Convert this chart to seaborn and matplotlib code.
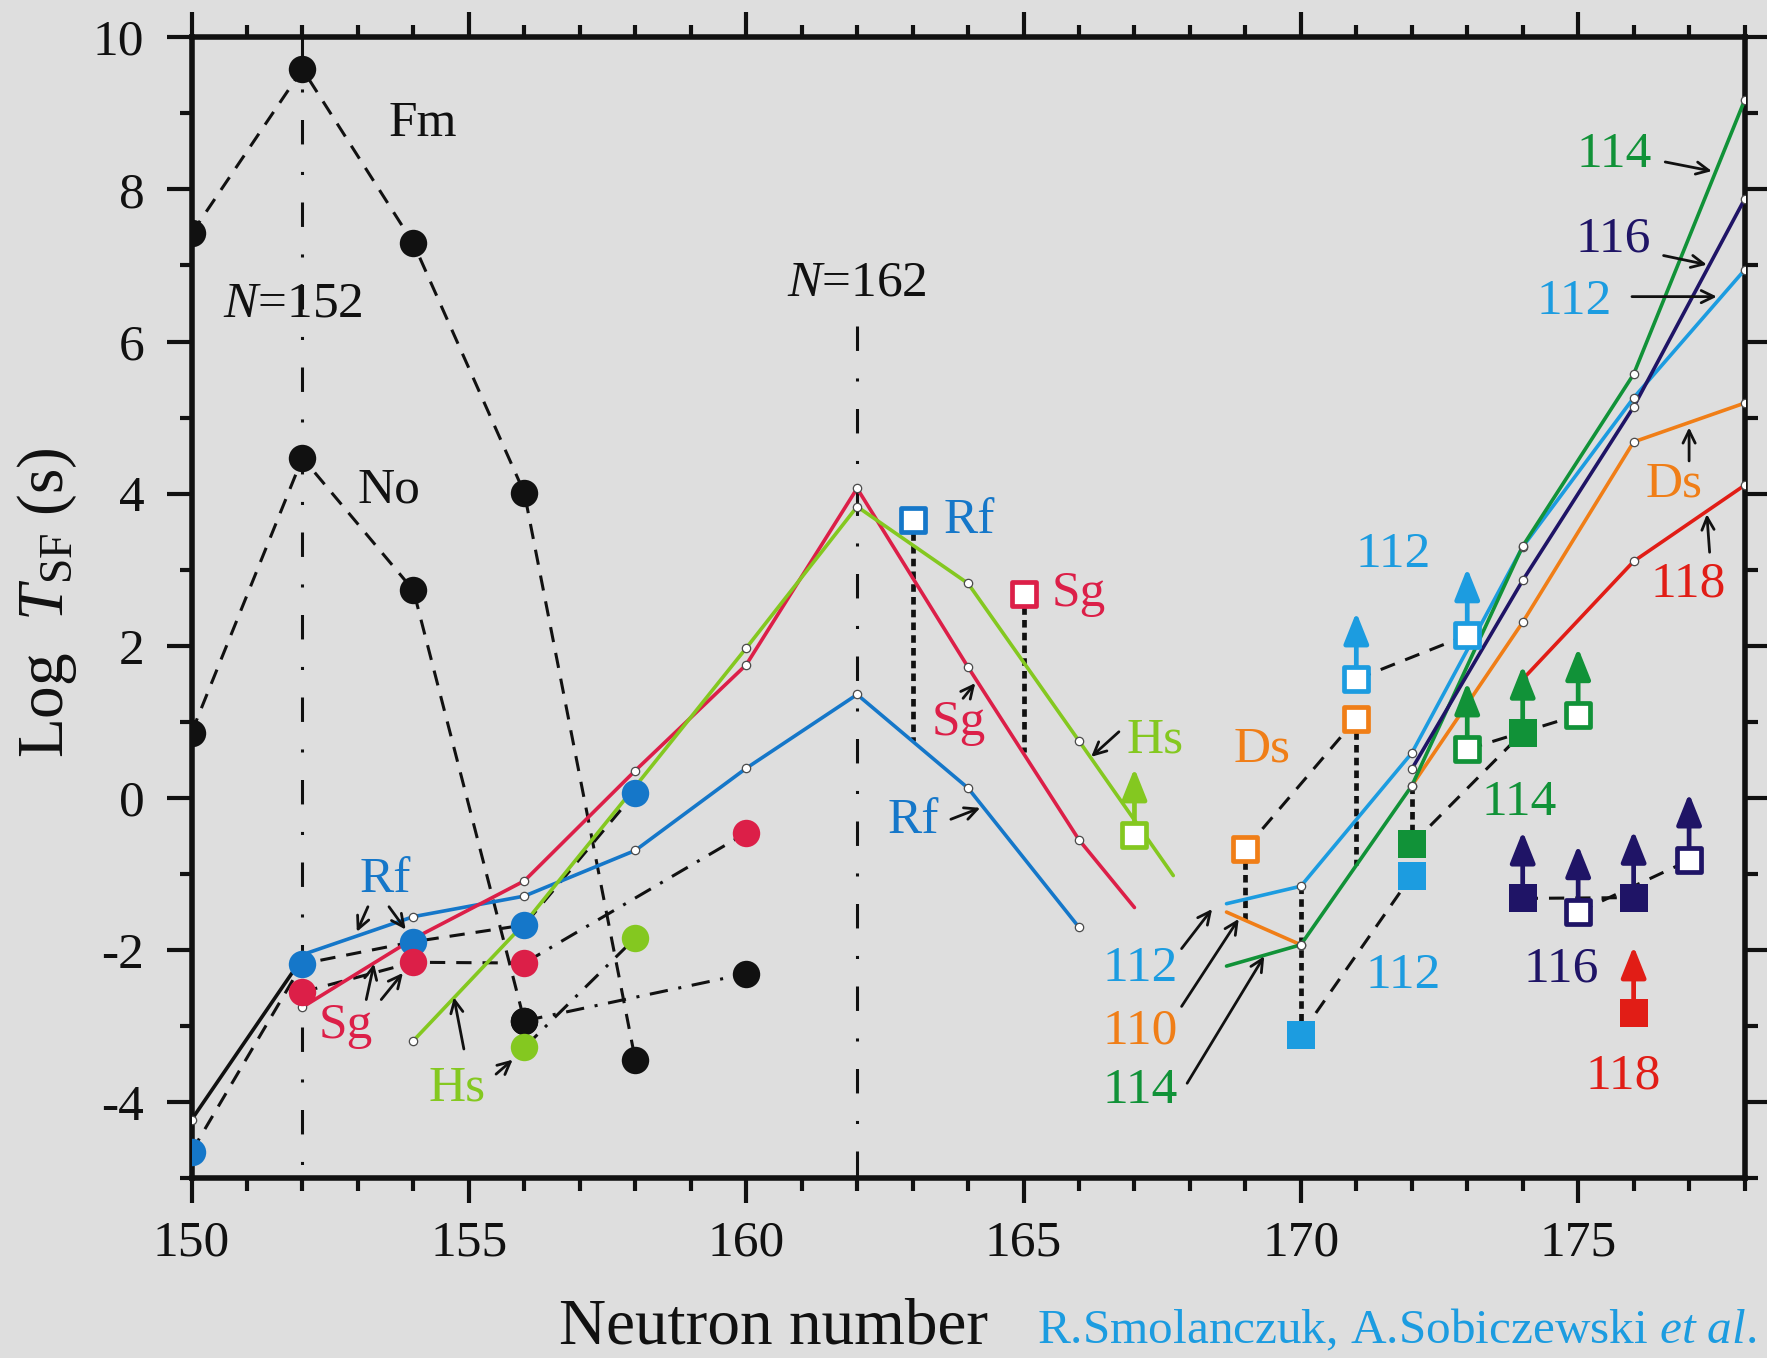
import numpy as np
import matplotlib
matplotlib.use("Agg")
import matplotlib.pyplot as plt
from matplotlib.ticker import MultipleLocator
import seaborn as sns

# ---------------- experimental points (log10 T_SF in s) ----------------
fm_n = [150, 152, 154, 156, 158]
fm_t = [7.42, 9.58, 7.29, 4.01, -3.44]
no_n = [150, 152, 154, 156]
no_t = [0.86, 4.47, 2.73, -2.93]
heavy_n = [156, 160]
heavy_t = [-2.93, -2.31]

rf_exp_n = [150, 152, 154, 156, 158]
rf_exp_t = [-4.65, -2.18, -1.89, -1.67, 0.07]
sg_exp_n = [152, 154, 156, 160]
sg_exp_t = [-2.55, -2.16, -2.17, -0.46]
hs_exp_n = [156, 158]
hs_exp_t = [-3.28, -1.84]

# squares (open = single event / limit, filled = measured)
rf_sq_n, rf_sq_t = [163], [3.66]
sg_sq_n, sg_sq_t = [165], [2.68]
hs_sq_n, hs_sq_t = [167], [-0.49]
ds_sq_n, ds_sq_t = [169, 171], [-0.67, 1.04]
e112_open_n, e112_open_t = [171, 173], [1.56, 2.14]
e112_full_n, e112_full_t = [170, 172], [-3.11, -1.02]
e114_open_n, e114_open_t = [173, 175], [0.64, 1.09]
e114_full_n, e114_full_t = [172, 174], [-0.61, 0.86]
e114_full_lim = [False, True]
e116_open_n, e116_open_t = [175, 177], [-1.50, -0.82]
e116_full_n, e116_full_t = [174, 176], [-1.32, -1.31]
e118_full_n, e118_full_t = [176], [-2.83]

# ---------------- calculated half-lives ----------------
lead_n = [150, 152]
lead_t = [-4.23, -2.10]
rf_th_n = [152, 154, 156, 158, 160, 162, 164, 166]
rf_th_t = [-2.06, -1.56, -1.29, -0.69, 0.39, 1.36, 0.13, -1.70]
sg_th_n = [152, 154, 156, 158, 160, 162, 164, 166, 167]
sg_th_t = [-2.75, -1.85, -1.09, 0.36, 1.75, 4.07, 1.72, -0.55, -1.44]
hs_th_n = [154, 156, 158, 160, 162, 164, 166, 167.7]
hs_th_t = [-3.19, -1.65, 0.15, 1.97, 3.83, 2.82, 0.75, -1.02]
th110_n = [168.66, 170]
th110_t = [-1.50, -1.93]
ds_th_n = [172, 174, 176, 178]
ds_th_t = [0.16, 2.31, 4.68, 5.19]
th112_n = [168.66, 170, 172, 174, 176, 178]
th112_t = [-1.39, -1.16, 0.59, 3.30, 5.26, 6.94]
th114_n = [168.66, 170, 172, 174, 176, 178]
th114_t = [-2.21, -1.93, 0.16, 3.31, 5.57, 9.17]
th116_n = [172, 174, 176, 178]
th116_t = [0.38, 2.86, 5.14, 7.87]
th118_n = [174, 176, 178]
th118_t = [1.56, 3.11, 4.11]

# links between measured and calculated values
link_n = [163, 165, 169, 170, 171, 172]
link_top = [3.66, 2.68, -0.67, -1.16, 1.04, 0.16]
link_bot = [0.75, 0.60, -1.60, -3.11, -0.88, -0.61]

shell_n = [152, 162]
shell_top = [10.0, 6.2]

# ---------------- style ----------------
BG = "#dedede"
INK = "#111111"
C_RF = "#1577c9"
C_SG = "#dc1f48"
C_HS = "#84c820"
C_110 = "#f07e17"
C_112 = "#1c9ce0"
C_114 = "#119238"
C_116 = "#1f1466"
C_118 = "#e11d16"

sns.set_theme(style="white")
plt.rcParams["font.family"] = ["Liberation Serif", "DejaVu Serif"]
plt.rcParams["mathtext.fontset"] = "custom"
plt.rcParams["mathtext.rm"] = "Liberation Serif"
plt.rcParams["mathtext.it"] = "Liberation Serif:italic"
plt.rcParams["axes.unicode_minus"] = False

fig = plt.figure(figsize=(17.67, 13.58), dpi=100, facecolor=BG)
ax = fig.add_axes([0.1084, 0.1323, 0.8789, 0.8403], facecolor=BG)

DASH = (0, (5, 3.6))
DASHDOT = (0, (6, 3.5, 1, 3.5))
SHELL = (0, (8, 9, 1, 9))
DOT = (0, (1.6, 1.1))


def curve(n, t, color, ls="-", lw=2.4, z=3):
    sns.lineplot(x=n, y=t, color=color, linestyle=ls, linewidth=lw,
                 sort=False, estimator=None, ax=ax, zorder=z)


def nodes(n, t):
    n = np.asarray(n, float)
    t = np.asarray(t, float)
    even = np.isclose(n % 2, 0)
    sns.scatterplot(x=n[even], y=t[even], s=36, color="white",
                    edgecolor="#4a4a4a", linewidth=0.9, ax=ax, zorder=4,
                    legend=False)


def dots(n, t, color):
    sns.scatterplot(x=n, y=t, s=390, color=color, linewidth=0, ax=ax,
                    zorder=5, legend=False)


def squares(n, t, color, filled, lim=None):
    if filled:
        sns.scatterplot(x=n, y=t, marker="s", s=400, color=color,
                        linewidth=0, ax=ax, zorder=6, legend=False)
    else:
        sns.scatterplot(x=n, y=t, marker="s", s=300, color="white",
                        edgecolor=color, linewidth=3.4, ax=ax, zorder=6,
                        legend=False)
    if lim is None:
        lim = [False] * len(n)
    for ni, ti, li in zip(n, t, lim):
        if li:
            ax.annotate("", xy=(ni, ti + 0.88), xytext=(ni, ti + 0.17),
                        arrowprops=dict(arrowstyle="-|>,head_length=0.95,head_width=0.38",
                                        color=color, lw=3.4, shrinkA=0, shrinkB=0,
                                        mutation_scale=20), zorder=6)


# magic-number guide lines
for n0, top in zip(shell_n, shell_top):
    curve([n0, n0], [top, -5], INK, ls=SHELL, lw=2.2, z=2)

# systematics of measured values
curve(fm_n, fm_t, INK, ls=DASH, lw=2.2)
curve(no_n, no_t, INK, ls=DASH, lw=2.2)
curve(heavy_n, heavy_t, INK, ls=DASHDOT, lw=2.2)
curve(rf_exp_n, rf_exp_t, INK, ls=DASH, lw=2.2)
curve(sg_exp_n[:3], sg_exp_t[:3], INK, ls=DASH, lw=2.2)
curve(sg_exp_n[2:], sg_exp_t[2:], INK, ls=DASHDOT, lw=2.2)
curve(hs_exp_n, hs_exp_t, INK, ls=DASHDOT, lw=2.2)
curve(ds_sq_n, ds_sq_t, INK, ls=DASH, lw=2.2)
curve(e112_open_n, e112_open_t, INK, ls=DASH, lw=2.2)
curve(e112_full_n, e112_full_t, INK, ls=DASH, lw=2.2)
curve(e114_open_n, e114_open_t, INK, ls=DASH, lw=2.2)
curve(e114_full_n, e114_full_t, INK, ls=DASH, lw=2.2)
curve(e116_open_n, e116_open_t, INK, ls=DASH, lw=2.2)
curve(e116_full_n, e116_full_t, INK, ls=DASH, lw=2.2)

for n0, a, b in zip(link_n, link_top, link_bot):
    curve([n0, n0], [a, b], INK, ls=DOT, lw=3.4, z=3)

# calculated curves
theory = [
    (lead_n, lead_t, INK),
    (rf_th_n, rf_th_t, C_RF),
    (sg_th_n, sg_th_t, C_SG),
    (hs_th_n, hs_th_t, C_HS),
    (th110_n, th110_t, C_110),
    (ds_th_n, ds_th_t, C_110),
    (th112_n, th112_t, C_112),
    (th114_n, th114_t, C_114),
    (th116_n, th116_t, C_116),
    (th118_n, th118_t, C_118),
]
for n, t, c in theory:
    curve(n, t, c, lw=2.6)
for n, t, c in theory:
    nodes(n, t)

# measured points
dots(fm_n, fm_t, INK)
dots(no_n, no_t, INK)
dots(heavy_n, heavy_t, INK)
dots(rf_exp_n, rf_exp_t, C_RF)
dots(sg_exp_n, sg_exp_t, C_SG)
dots(hs_exp_n, hs_exp_t, C_HS)

squares(rf_sq_n, rf_sq_t, C_RF, False)
squares(sg_sq_n, sg_sq_t, C_SG, False)
squares(hs_sq_n, hs_sq_t, C_HS, False, [True])
squares(ds_sq_n, ds_sq_t, C_110, False)
squares(e112_open_n, e112_open_t, C_112, False, [True, True])
squares(e112_full_n, e112_full_t, C_112, True)
squares(e114_open_n, e114_open_t, C_114, False, [True, True])
squares(e114_full_n, e114_full_t, C_114, True, e114_full_lim)
squares(e116_open_n, e116_open_t, C_116, False, [True, True])
squares(e116_full_n, e116_full_t, C_116, True, [True, True])
squares(e118_full_n, e118_full_t, C_118, True, [True])

# labels
labels = [
    ("Fm", 154.17, 8.86, INK), ("No", 153.56, 4.04, INK),
    ("$N$=152", 151.83, 6.49, INK), ("$N$=162", 161.99, 6.76, INK),
    ("Rf", 153.50, -1.07, C_RF), ("Sg", 152.78, -3.0, C_SG),
    ("Hs", 154.78, -3.81, C_HS),
    ("Rf", 164.02, 3.64, C_RF), ("Sg", 165.99, 2.68, C_SG),
    ("Sg", 163.84, 0.99, C_SG), ("Rf", 163.01, -0.30, C_RF),
    ("Hs", 167.37, 0.76, C_HS), ("Ds", 169.30, 0.64, C_110),
    ("112", 171.66, 3.20, C_112), ("114", 173.94, -0.06, C_114),
    ("112", 167.11, -2.25, C_112), ("110", 167.11, -3.07, C_110),
    ("114", 167.11, -3.85, C_114), ("112", 171.85, -2.34, C_112),
    ("116", 174.69, -2.25, C_116), ("118", 175.81, -3.66, C_118),
    ("114", 175.64, 8.46, C_114), ("116", 175.64, 7.35, C_116),
    ("112", 174.93, 6.52, C_112), ("Ds", 176.72, 4.12, C_110),
    ("118", 176.99, 2.81, C_118),
]
for txt, x, y, c in labels:
    ax.text(x, y, txt, color=c, fontsize=37, ha="center", va="center", zorder=7)

pointers = [
    ((153.18, -1.43), (152.98, -1.76)), ((153.56, -1.43), (153.86, -1.73)),
    ((153.15, -2.65), (153.29, -2.18)), ((153.42, -2.65), (153.81, -2.30)),
    ((154.91, -3.30), (154.73, -2.62)), ((155.49, -3.63), (155.79, -3.44)),
    ((163.91, 1.31), (164.13, 1.51)), ((163.69, -0.28), (164.22, -0.13)),
    ((166.72, 0.87), (166.22, 0.54)),
    ((167.85, -1.98), (168.40, -1.46)), ((167.85, -2.74), (168.88, -1.59)),
    ((167.95, -3.75), (169.34, -2.08)),
    ((176.57, 8.36), (177.41, 8.24)), ((176.54, 7.13), (177.32, 7.01)),
    ((175.97, 6.59), (177.50, 6.59)), ((177.0, 4.43), (177.0, 4.87)),
    ((177.37, 3.23), (177.32, 3.73)),
]
for tail, tip in pointers:
    ax.annotate("", xy=tip, xytext=tail,
                arrowprops=dict(arrowstyle="->,head_length=0.45,head_width=0.22",
                                color=INK, lw=2.0, shrinkA=0, shrinkB=0,
                                mutation_scale=20), zorder=7)

# axes
ax.set_xlim(150, 178)
ax.set_ylim(-5, 10)
ax.xaxis.set_major_locator(MultipleLocator(5))
ax.xaxis.set_minor_locator(MultipleLocator(1))
ax.yaxis.set_major_locator(MultipleLocator(2))
ax.yaxis.set_minor_locator(MultipleLocator(1))
ax.set_yticks([-4, -2, 0, 2, 4, 6, 8, 10])
ax.tick_params(which="both", direction="out", top=True, right=True,
               bottom=True, left=True, colors=INK, width=3)
ax.tick_params(which="major", length=18, labelsize=37)
ax.tick_params(which="minor", length=9)
ax.tick_params(axis="x", which="major", pad=12)
ax.tick_params(axis="y", which="major", pad=16)
for sp in ax.spines.values():
    sp.set_color(INK)
    sp.set_linewidth(4)
ax.set_xlabel("")
ax.set_ylabel("")

fig.text(0.0267, 0.556, r"Log  $T_{\mathrm{SF}}$ (s)", rotation=90,
         fontsize=47, color=INK, ha="center", va="center")
fig.text(0.4376, 0.011, "Neutron number", fontsize=47, color=INK,
         ha="center", va="baseline")
fig.text(0.587, 0.011, r"R.Smolanczuk, A.Sobiczewski $\mathit{et\ al.}$",
         fontsize=35.5, color=C_112, ha="left", va="baseline")

fig.savefig("out.png", dpi=100, facecolor=BG)
